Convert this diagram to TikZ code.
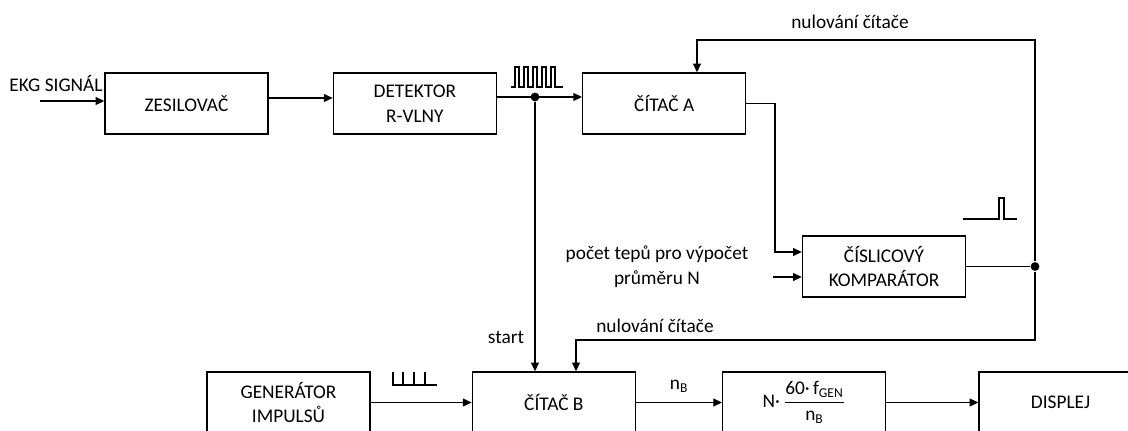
\documentclass[tikz,border=0pt]{standalone}
\usepackage{amsmath}
\usepackage{fontspec}
\setmainfont{Carlito}
\usetikzlibrary{positioning,arrows.meta}

\begin{document}
\begin{tikzpicture}[
    x=0.02cm, y=-0.02cm,
    font=\fontsize{11}{14}\selectfont,
    >={Triangle[length=5pt,width=4.5pt]},
    line width=0.7pt,
    block/.style={rectangle, draw, line width=0.8pt,
                  minimum width=3.26cm,
                  minimum height=1.22cm,
                  align=center, inner sep=1pt},
    dot/.style={circle, fill, inner sep=0pt, minimum size=5pt},
    pulse/.style={line width=0.6pt}
]
\clip (0,0) rectangle (1128,431);
\node[block] (zes) at (186.5,103.5) {ZESILOVAČ};
\node[block, right=1.28cm of zes] (det) {DETEKTOR\\R-VLNY};
\node[block, right=1.7cm of det] (citA) {ČÍTAČ A};
\node[block] (komp) at (884,266.5) {ČÍSLICOVÝ\\KOMPARÁTOR};
\node[block] (gen) at (288.5,402.5) {GENERÁTOR\\IMPULSŮ};
\node[block, right=2.02cm of gen] (citB) {ČÍTAČ B};
\node[block, right=1.72cm of citB] (vypocet) {N·\,$\dfrac{\text{60·\,f\textsubscript{GEN}}}{\text{n\textsubscript{B}}}$};
\node[block, right=1.84cm of vypocet] (displej) {DISPLEJ};
% popisky
\node (ekglbl) at (56,84) {EKG SIGNÁL};
\node (nul1) at (850,22) {nulování čítače};
\node[align=center] (pocet) at (657,267) {počet tepů pro výpočet\\průměru N};
\node (startlbl) at (506,337) {start};
\node (nul2) at (655,326) {nulování čítače};
% uzly a pomocne body
\node[dot] (j1) at (535,97) {};
\node[dot] (j2) at (1035,266.5) {};
\coordinate (ekg) at (40,101);
\coordinate (k1) at (775,252);
\coordinate (k2) at (773,277);
\coordinate (r1) at (697,40);
\coordinate (r2) at (576,340);
% spoje
\draw[->] (ekg) -- (ekg -| zes.west);
\draw[->] ([yshift=0.11cm]zes.east) -- ([yshift=0.11cm]zes.east -| det.west);
\draw[->] (det.east |- j1) -- (citA.west |- j1);
\draw[->] (citA.east) -| (k1) -- (k1 -| komp.west);
\draw[->] (k2) -- (k2 -| komp.west);
\draw (komp.east) -- (j2);
\draw[->] (j2) |- (r1) -- (r1 |- citA.north);
\draw[->] (j2) |- (r2) -- (r2 |- citB.north);
\draw[->] (j1) -- (j1 |- citB.north);
\draw[->] (gen.east) -- (citB.west);
\draw[->] (citB.east) -- node[above=2pt] {n\textsubscript{B}} (vypocet.west);
\draw[->] (vypocet.east) -- (displej.west);
% prubehy
\draw[pulse] (511,87) -- (515,87) \foreach \i in {0,...,4} {-- ++(0,-20) -- ++(4,0) -- ++(0,20) -- ++(5,0)} -- (563,87);
\draw[pulse] (963,219) -- (999,219) -- (999,198) -- (1004,198) -- (1004,219) -- (1017,219);
\draw[pulse] (392,385) -- (437,385) \foreach \x in {393,403,414,425} {(\x,385) -- (\x,372)};
\end{tikzpicture}
\end{document}
